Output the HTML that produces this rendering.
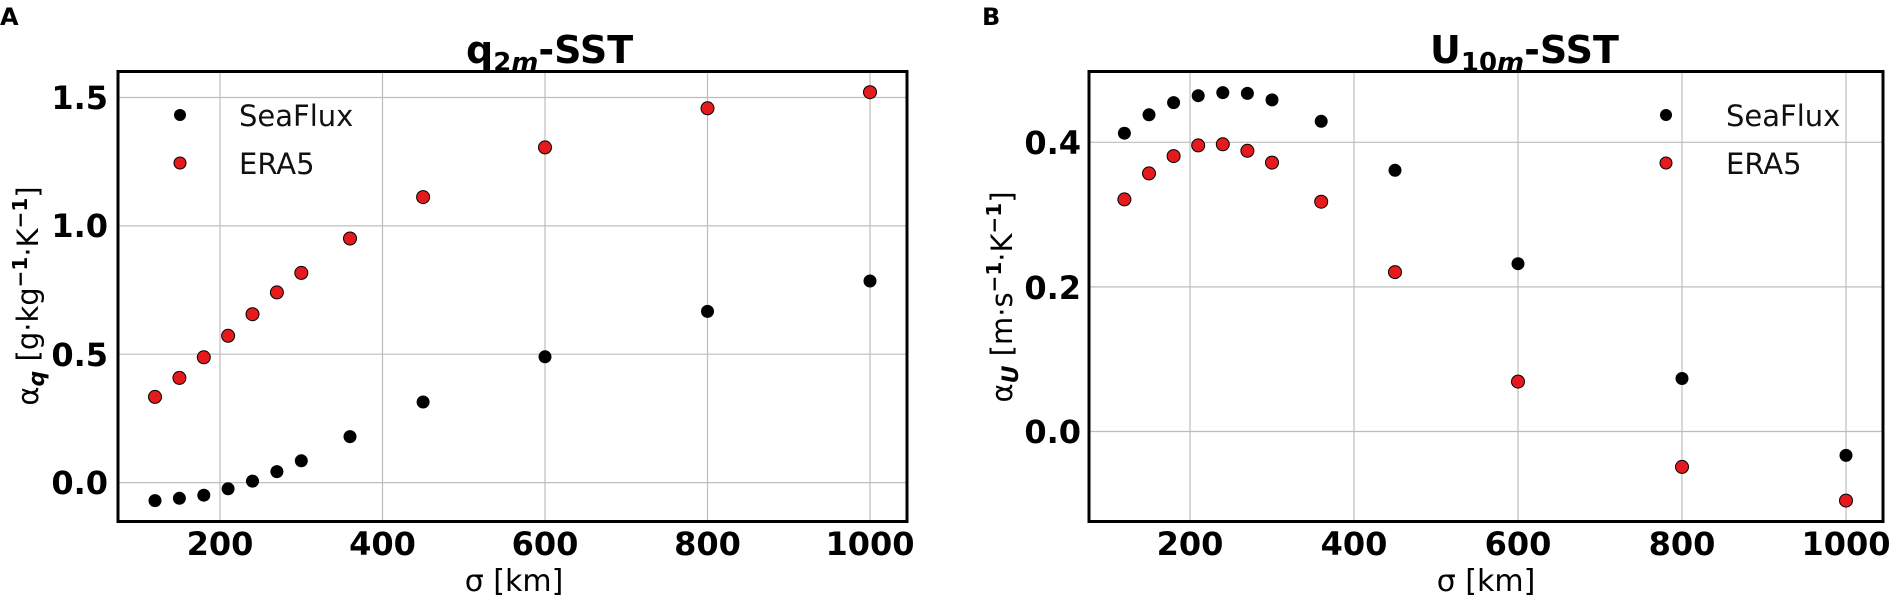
<!DOCTYPE html>
<html><head><meta charset="utf-8"><style>
html,body{margin:0;padding:0;background:#fff;}
svg{display:block;}
text{font-family:"DejaVu Sans","Liberation Sans",sans-serif;}
.tk{font-size:32px;font-weight:bold;fill:#000;}
.lg{font-size:29px;fill:#111;}
.grid{stroke:#bdbdbd;stroke-width:1.2;}
</style></head><body>
<svg width="1891" height="600" viewBox="0 0 1891 600" xmlns="http://www.w3.org/2000/svg">
<rect width="1891" height="600" fill="#fff"/>
<!-- Panel A -->
<text x="0" y="25" style="font-size:24px;font-weight:bold">A</text>
<text x="466" y="63" style="font-size:38px;font-weight:bold">q<tspan font-size="26" dy="8">2<tspan font-style="italic">m</tspan></tspan><tspan dy="-8">-SST</tspan></text>
<g class="grid">
<line x1="220" y1="72" x2="220" y2="521"/><line x1="382.5" y1="72" x2="382.5" y2="521"/>
<line x1="545" y1="72" x2="545" y2="521"/><line x1="707.5" y1="72" x2="707.5" y2="521"/>
<line x1="870" y1="72" x2="870" y2="521"/>
<line x1="118" y1="97.5" x2="907" y2="97.5"/><line x1="118" y1="225.9" x2="907" y2="225.9"/>
<line x1="118" y1="354.2" x2="907" y2="354.2"/><line x1="118" y1="482.6" x2="907" y2="482.6"/>
</g>
<rect x="118" y="71.5" width="789" height="450" fill="none" stroke="#000" stroke-width="3"/>
<g class="tk" text-anchor="end">
<text x="108" y="109">1.5</text><text x="108" y="237">1.0</text>
<text x="108" y="366">0.5</text><text x="108" y="494">0.0</text>
</g>
<g class="tk" text-anchor="middle">
<text x="220" y="555">200</text><text x="382.5" y="555">400</text><text x="545" y="555">600</text>
<text x="707.5" y="555">800</text><text x="870" y="555">1000</text>
</g>
<text x="514" y="591" text-anchor="middle" style="font-size:30px">σ [km]</text>
<text transform="translate(38,296) rotate(-90)" text-anchor="middle" style="font-size:29px">α<tspan font-size="22" font-weight="bold" font-style="italic" dy="6">q</tspan><tspan dy="-6"> [g·kg</tspan><tspan font-size="20" font-weight="bold" dy="-11">−1</tspan><tspan dy="11">·K</tspan><tspan font-size="20" font-weight="bold" dy="-11">−1</tspan><tspan dy="11">]</tspan></text>
<g id="pA"></g>
<!-- legend A -->
<circle cx="180" cy="115" r="6" fill="#000"/>
<text class="lg" x="239" y="126">SeaFlux</text>
<circle cx="180" cy="163" r="6" fill="#e41a1c" stroke="#000" stroke-width="1"/>
<text class="lg" x="239" y="174">ERA5</text>

<!-- Panel B -->
<text x="982" y="25" style="font-size:24px;font-weight:bold">B</text>
<text x="1430" y="63" style="font-size:38px;font-weight:bold">U<tspan font-size="26" dy="8">10<tspan font-style="italic">m</tspan></tspan><tspan dy="-8">-SST</tspan></text>
<g class="grid">
<line x1="1190" y1="72" x2="1190" y2="521"/><line x1="1354" y1="72" x2="1354" y2="521"/>
<line x1="1518" y1="72" x2="1518" y2="521"/><line x1="1682" y1="72" x2="1682" y2="521"/>
<line x1="1846" y1="72" x2="1846" y2="521"/>
<line x1="1089" y1="142.3" x2="1883" y2="142.3"/><line x1="1089" y1="286.9" x2="1883" y2="286.9"/>
<line x1="1089" y1="431.5" x2="1883" y2="431.5"/>
</g>
<rect x="1089" y="71.5" width="794" height="450" fill="none" stroke="#000" stroke-width="3"/>
<g class="tk" text-anchor="end">
<text x="1081" y="154">0.4</text><text x="1081" y="299">0.2</text><text x="1081" y="443">0.0</text>
</g>
<g class="tk" text-anchor="middle">
<text x="1190" y="555">200</text><text x="1354" y="555">400</text><text x="1518" y="555">600</text>
<text x="1682" y="555">800</text><text x="1846" y="555">1000</text>
</g>
<text x="1486" y="591" text-anchor="middle" style="font-size:30px">σ [km]</text>
<text transform="translate(1012,297) rotate(-90)" text-anchor="middle" style="font-size:29px">α<tspan font-size="22" font-weight="bold" font-style="italic" dy="6">U</tspan><tspan dy="-6"> [m·s</tspan><tspan font-size="20" font-weight="bold" dy="-11">−1</tspan><tspan dy="11">·K</tspan><tspan font-size="20" font-weight="bold" dy="-11">−1</tspan><tspan dy="11">]</tspan></text>
<circle cx="1666" cy="115" r="6" fill="#000"/>
<text class="lg" x="1726" y="126">SeaFlux</text>
<circle cx="1666" cy="163" r="6" fill="#e41a1c" stroke="#000" stroke-width="1"/>
<text class="lg" x="1726" y="174">ERA5</text>

<!-- data points -->
<g fill="#000">
<circle cx="155" cy="500.6" r="6.5"/><circle cx="179.4" cy="498.3" r="6.5"/><circle cx="203.8" cy="495.2" r="6.5"/>
<circle cx="228.1" cy="488.8" r="6.5"/><circle cx="252.5" cy="481.1" r="6.5"/><circle cx="276.9" cy="471.6" r="6.5"/>
<circle cx="301.3" cy="460.8" r="6.5"/><circle cx="350" cy="436.6" r="6.5"/><circle cx="423.1" cy="402" r="6.5"/>
<circle cx="545" cy="356.8" r="6.5"/><circle cx="707.5" cy="311.4" r="6.5"/><circle cx="870" cy="281" r="6.5"/>
</g>
<g fill="#e41a1c" stroke="#000" stroke-width="1">
<circle cx="155" cy="396.9" r="6.5"/><circle cx="179.4" cy="377.9" r="6.5"/><circle cx="203.8" cy="357.3" r="6.5"/>
<circle cx="228.1" cy="335.8" r="6.5"/><circle cx="252.5" cy="314.2" r="6.5"/><circle cx="276.9" cy="292.4" r="6.5"/>
<circle cx="301.3" cy="272.9" r="6.5"/><circle cx="350" cy="238.5" r="6.5"/><circle cx="423.1" cy="197.1" r="6.5"/>
<circle cx="545" cy="147.4" r="6.5"/><circle cx="707.5" cy="108.3" r="6.5"/><circle cx="870" cy="92.2" r="6.5"/>
</g>
<g fill="#000">
<circle cx="1124.4" cy="133.2" r="6.5"/><circle cx="1149" cy="114.8" r="6.5"/><circle cx="1173.6" cy="102.6" r="6.5"/>
<circle cx="1198.2" cy="95.7" r="6.5"/><circle cx="1222.8" cy="92.6" r="6.5"/><circle cx="1247.4" cy="93.4" r="6.5"/>
<circle cx="1272" cy="99.9" r="6.5"/><circle cx="1321.2" cy="121.3" r="6.5"/><circle cx="1395" cy="170.3" r="6.5"/>
<circle cx="1518" cy="263.7" r="6.5"/><circle cx="1682" cy="378.5" r="6.5"/><circle cx="1846" cy="455.4" r="6.5"/>
</g>
<g fill="#e41a1c" stroke="#000" stroke-width="1">
<circle cx="1124.4" cy="199.4" r="6.5"/><circle cx="1149" cy="173.4" r="6.5"/><circle cx="1173.6" cy="156.1" r="6.5"/>
<circle cx="1198.2" cy="145.4" r="6.5"/><circle cx="1222.8" cy="144.3" r="6.5"/><circle cx="1247.4" cy="150.8" r="6.5"/>
<circle cx="1272" cy="162.6" r="6.5"/><circle cx="1321.2" cy="201.7" r="6.5"/><circle cx="1395" cy="272.1" r="6.5"/>
<circle cx="1518" cy="381.6" r="6.5"/><circle cx="1682" cy="466.9" r="6.5"/><circle cx="1846" cy="500.6" r="6.5"/>
</g>
</svg>
</body></html>
